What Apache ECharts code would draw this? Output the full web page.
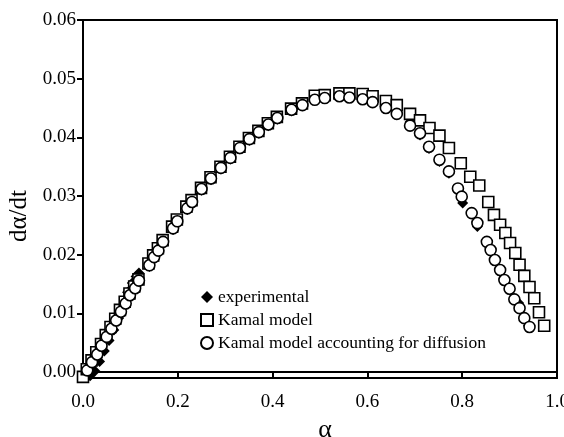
<!DOCTYPE html>
<html><head><meta charset="utf-8">
<script src="https://cdn.jsdelivr.net/npm/echarts@6/dist/echarts.min.js"></script>
<style>html,body{margin:0;padding:0;background:#fff}#c{width:564px;height:437px}</style>
</head><body><div id="c"></div>
<script>
const xTicks = [0, 0.2, 0.4, 0.6, 0.8, 1.0];
const yTicks = [0, 0.01, 0.02, 0.03, 0.04, 0.05, 0.06];
const seriesNames = ['experimental', 'Kamal model', 'Kamal model accounting for diffusion'];

const alphaExp = [0.005,0.015,0.025,0.035,0.045,0.055,0.065,0.075,0.085,0.094,0.104,0.112,0.118,0.140,0.150,0.160,0.170,0.190,0.200,0.220,0.230,0.250,0.270,0.291,0.311,0.331,0.351,0.371,0.391,0.410,0.440,0.463,0.489,0.510,0.541,0.562,0.590,0.611,0.639,0.662,0.690,0.711,0.730,0.752,0.772,0.801,0.832,0.860,0.880,0.900,0.919,0.940];
const rateExp = [-0.0009,-0.0006,0.0002,0.0018,0.0036,0.0054,0.0072,0.0092,0.0112,0.0136,0.0152,0.0163,0.0169,0.0180,0.0194,0.0207,0.0221,0.0243,0.0254,0.0277,0.0288,0.0310,0.0328,0.0346,0.0363,0.0380,0.0395,0.0407,0.0420,0.0431,0.0445,0.0454,0.0465,0.0469,0.0472,0.0471,0.0467,0.0462,0.0451,0.0441,0.0426,0.0404,0.0381,0.0359,0.0339,0.0288,0.0248,0.0205,0.0171,0.0140,0.0118,0.0079];

const alphaKamal = [0.000,0.008,0.018,0.028,0.038,0.048,0.058,0.068,0.078,0.088,0.098,0.108,0.117,0.138,0.148,0.158,0.168,0.188,0.198,0.218,0.229,0.249,0.269,0.290,0.310,0.330,0.350,0.370,0.390,0.409,0.439,0.462,0.489,0.510,0.541,0.562,0.590,0.611,0.639,0.662,0.690,0.711,0.731,0.752,0.772,0.797,0.817,0.836,0.855,0.867,0.880,0.891,0.901,0.912,0.921,0.931,0.942,0.952,0.962,0.973];
const rateKamal = [-0.0008,0.0005,0.0020,0.0034,0.0048,0.0063,0.0077,0.0091,0.0106,0.0120,0.0134,0.0146,0.0158,0.0185,0.0199,0.0211,0.0225,0.0248,0.0260,0.0282,0.0293,0.0314,0.0332,0.0350,0.0367,0.0384,0.0399,0.0411,0.0424,0.0435,0.0449,0.0458,0.0471,0.0472,0.0475,0.0475,0.0474,0.0470,0.0462,0.0455,0.0440,0.0429,0.0416,0.0403,0.0382,0.0356,0.0333,0.0318,0.0290,0.0268,0.0251,0.0237,0.0220,0.0203,0.0183,0.0164,0.0145,0.0126,0.0102,0.0079];

const alphaDiff = [0.009,0.019,0.030,0.039,0.050,0.060,0.070,0.080,0.090,0.099,0.110,0.118,0.140,0.150,0.159,0.169,0.190,0.199,0.220,0.230,0.250,0.270,0.291,0.311,0.331,0.351,0.371,0.391,0.410,0.440,0.463,0.489,0.510,0.541,0.562,0.590,0.611,0.639,0.662,0.690,0.711,0.730,0.752,0.772,0.791,0.799,0.820,0.832,0.852,0.860,0.869,0.880,0.889,0.900,0.910,0.921,0.931,0.942];
const rateDiff = [0.0003,0.0017,0.0030,0.0045,0.0060,0.0074,0.0088,0.0103,0.0117,0.0131,0.0143,0.0156,0.0182,0.0196,0.0207,0.0222,0.0245,0.0257,0.0279,0.0290,0.0312,0.0330,0.0348,0.0365,0.0382,0.0397,0.0409,0.0422,0.0433,0.0447,0.0455,0.0464,0.0467,0.0470,0.0468,0.0465,0.0460,0.0450,0.0440,0.0420,0.0407,0.0384,0.0362,0.0342,0.0313,0.0299,0.0271,0.0254,0.0222,0.0208,0.0191,0.0174,0.0157,0.0142,0.0124,0.0109,0.0092,0.0077];

const zip = (a, b) => a.map((v, i) => [v, b[i]]);
const FONT = 'Liberation Serif';

const chart = echarts.init(document.getElementById('c'), null, {renderer: 'canvas'});
chart.setOption({
  backgroundColor: '#fff',
  animation: false,
  grid: {left: 83, right: 7, top: 20, bottom: 59, outerBoundsMode: 'none', containLabel: false,
         show: true, borderColor: '#000', borderWidth: 2, backgroundColor: 'transparent'},
  xAxis: {
    type: 'value', min: 0, max: 1, interval: 0.2,
    name: 'α', nameLocation: 'middle', nameGap: 35,
    nameTextStyle: {fontFamily: FONT, fontSize: 26, color: '#000', padding: [0, 0, 0, 10]},
    axisLine: {show: true, lineStyle: {color: '#000', width: 2}},
    axisTick: {show: true, length: 6, lineStyle: {color: '#000', width: 2}},
    axisLabel: {fontFamily: FONT, fontSize: 19, color: '#000', margin: 15, hideOverlap: false, formatter: v => v.toFixed(1)},
    splitLine: {show: false}
  },
  yAxis: {
    type: 'value', min: -0.001, max: 0.06,
    name: 'dα/dt', nameLocation: 'middle', nameGap: 43, nameRotate: 90,
    nameTextStyle: {fontFamily: FONT, fontSize: 25, color: '#000', padding: [0, 34, 0, 0]},
    axisLine: {show: true, lineStyle: {color: '#000', width: 2}},
    axisTick: {show: true, length: 6, customValues: yTicks, lineStyle: {color: '#000', width: 2}},
    axisLabel: {fontFamily: FONT, fontSize: 19, color: '#000', margin: 7, customValues: yTicks, formatter: v => v.toFixed(2)},
    splitLine: {show: false}
  },
  legend: {
    orient: 'vertical', left: 195, top: 283, itemGap: 5, itemWidth: 12, itemHeight: 12,
    textStyle: {fontFamily: FONT, fontSize: 17.5, color: '#000'},
    data: [
      {name: seriesNames[0], icon: 'diamond'},
      {name: seriesNames[1], icon: 'rect'},
      {name: seriesNames[2], icon: 'circle'}
    ]
  },
  series: [
    {name: seriesNames[0], type: 'scatter', symbol: 'diamond', symbolSize: 11, clip: false,
     itemStyle: {color: '#000', borderColor: '#000', borderWidth: 0, opacity: 1},
     data: zip(alphaExp, rateExp)},
    {name: seriesNames[1], type: 'scatter', symbol: 'rect', symbolSize: 11, clip: false,
     itemStyle: {color: '#fff', borderColor: '#000', borderWidth: 1.6, opacity: 1},
     data: zip(alphaKamal, rateKamal)},
    {name: seriesNames[2], type: 'scatter', symbol: 'circle', symbolSize: 11, clip: false,
     itemStyle: {color: '#fff', borderColor: '#000', borderWidth: 1.6, opacity: 1},
     data: zip(alphaDiff, rateDiff)}
  ]
});
</script></body></html>
